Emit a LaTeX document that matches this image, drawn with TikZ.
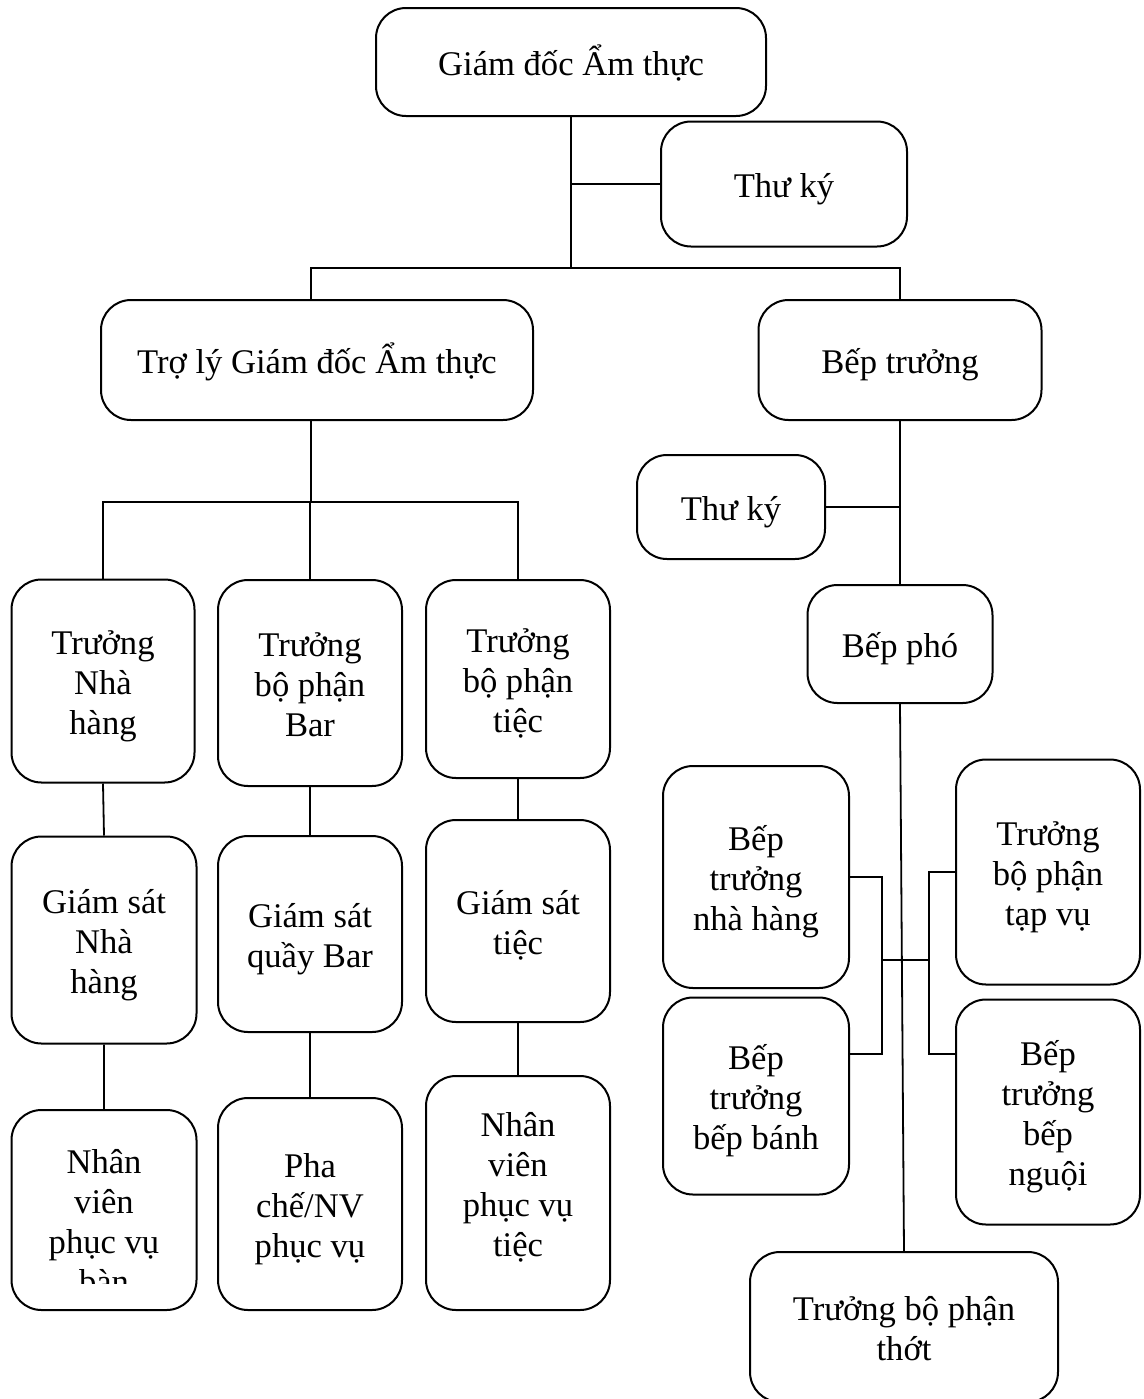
\documentclass[tikz,border=0pt]{standalone}
\usepackage{fontspec}
\setmainfont{Liberation Serif}

\tikzset{
  box/.style={draw, rounded corners=15pt, line width=1pt, align=flush center, inner sep=0pt,
    font=\fontsize{17.3}{20}\selectfont,
    execute at begin node={\rule{0pt}{20pt}},
    execute at end node={\rule[-7pt]{0pt}{7pt}}},
  frame/.style={draw, rounded corners=15pt, line width=1pt, inner sep=0pt},
  words/.style={align=center, inner sep=0pt, font=\fontsize{17.3}{20}\selectfont},
  wh/.style 2 args={minimum width=#1*0.5pt, minimum height=#2*0.5pt, text width=#1*0.5pt-14pt},
  wire/.style={line width=0.9pt}
}

\begin{document}
\begin{tikzpicture}[x=0.5pt,y=-0.5pt]
\useasboundingbox (0,0) rectangle (1144,1399);

% top
\node[box, wh={390}{108}] (gdat) at (571,62) {Giám đốc Ẩm thực};
\node[box, wh={246}{125}] (thuky1) at (784,184) {Thư ký};
\node[box, wh={432}{120}] (troly) at (317,360) {Trợ lý Giám đốc Ẩm thực};
\node[box, wh={283}{120}] (beptruong) at (900,360) {Bếp trưởng};

% left side
\node[box, wh={183}{203}] (tNhaHang) at (103,681) {Trưởng\\Nhà\\hàng};
\node[box, wh={184}{206}] (tBar) at (310,683) {Trưởng\\bộ phận\\Bar};
\node[box, wh={184}{198}] (tTiec) at (518,679) {Trưởng\\bộ phận\\tiệc};
\node[box, wh={185}{207}] (gsNhaHang) at (104,940) {Giám sát\\Nhà\\hàng};
\node[box, wh={184}{196}] (gsBar) at (310,934) {Giám sát\\quầy Bar};
\node[box, wh={184}{202}] (gsTiec) at (518,921) {Giám sát\\tiệc};
\node[frame, minimum width=92.5pt, minimum height=100pt] (nvBan) at (104,1210) {};
\node[box, wh={184}{212}] (phaChe) at (310,1204) {Pha\\chế/NV\\phục vụ};
\node[box, wh={184}{234}, execute at end node={\rule[-17pt]{0pt}{17pt}}] (nvTiec) at (518,1193) {Nhân\\viên\\phục vụ\\tiệc};
\begin{scope}
  \clip (12,1110) rectangle (197,1283);
  \node[words] (nvBanText) at (104,1222) {Nhân\\viên\\phục vụ\\bàn};
\end{scope}

% kitchen
\node[box, wh={188}{104}] (thuky2) at (731,507) {Thư ký};
\node[box, wh={185}{118}] (beppho) at (900,644) {Bếp phó};
\node[box, wh={186}{222}] (bepNhaHang) at (756,877) {Bếp\\trưởng\\nhà hàng};
\node[box, wh={186}{197}] (bepBanh) at (756,1096) {Bếp\\trưởng\\bếp bánh};
\node[box, wh={184}{225}] (tapVu) at (1048,872) {Trưởng\\bộ phận\\tạp vụ};
\node[box, wh={184}{225}] (bepNguoi) at (1048,1112) {Bếp\\trưởng\\bếp\\nguội};
\node[box, wh={308}{150}] (thot) at (904,1327) {Trưởng bộ phận\\thớt};

\coordinate (jTop) at (571,268);
\coordinate (jTroly) at (311,502);
\coordinate (jLeft) at (882,960);
\coordinate (jRight) at (929,960);

\draw[wire] (gdat.south) -- (jTop);
\draw[wire] (gdat.south |- thuky1.west) -- (thuky1.west);
\draw[wire] ([xshift=-3pt]troly.north) |- (jTop) -| (beptruong.north);

\draw[wire] ([xshift=-3pt]troly.south) -- (jTroly);
\draw[wire] (tNhaHang.north) |- (jTroly) -| (tTiec.north);
\draw[wire] (jTroly) -| (tBar.north);
\draw[wire] (tNhaHang.south) -- (gsNhaHang.north) (gsNhaHang.south) -- (nvBan.north);
\draw[wire] (tBar.south) -- (gsBar.north) (gsBar.south) -- (phaChe.north);
\draw[wire] (tTiec.south) -- (gsTiec.north) (gsTiec.south) -- (nvTiec.north);

\draw[wire] (beptruong.south) -- (beppho.north);
\draw[wire] (thuky2.east) -- (thuky2.east -| beptruong.south);
\draw[wire] (beppho.south) -- (thot.north);
\draw[wire] (bepNhaHang.east) -| (jLeft) |- ([yshift=21pt]bepBanh.east);
\draw[wire] (tapVu.west) -| (jRight) |- ([yshift=29pt]bepNguoi.west);
\draw[wire] (jLeft) -- (jRight);
\end{tikzpicture}
\end{document}
